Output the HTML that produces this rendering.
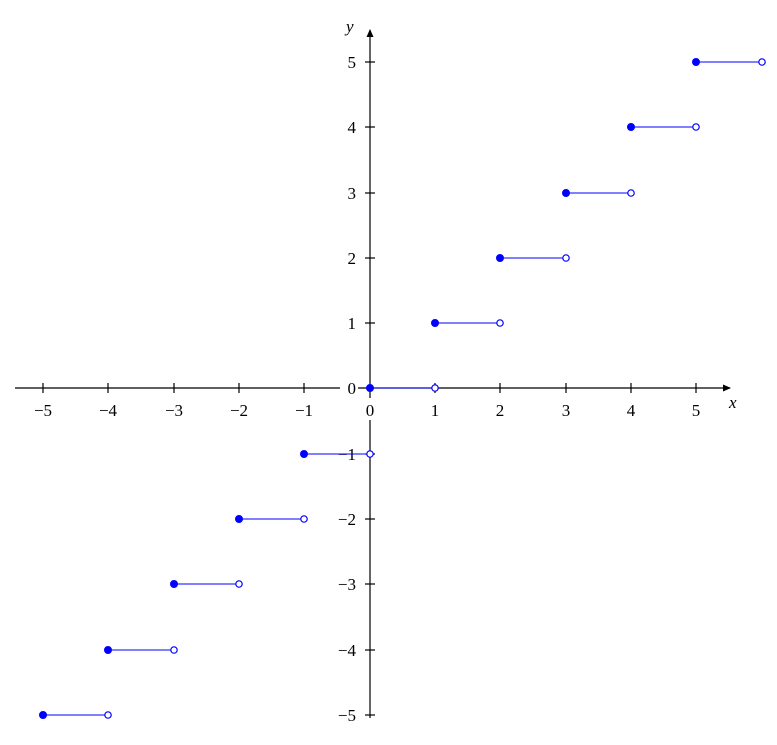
<!DOCTYPE html>
<html><head><meta charset="utf-8"><style>body{margin:0;background:#fff}</style></head><body>
<svg width="777" height="740" xmlns="http://www.w3.org/2000/svg" font-family="Liberation Serif, serif" font-size="17">
<defs><marker id="a" markerWidth="8" markerHeight="8" refX="7" refY="4" orient="auto" markerUnits="userSpaceOnUse"><path d="M0,0.5 L8,4 L0,7.5 Z" fill="#000"/></marker></defs>
<line x1="15" y1="388" x2="730" y2="388" stroke="#000" stroke-width="1.2" marker-end="url(#a)"/>
<line x1="370" y1="718" x2="370" y2="30" stroke="#000" stroke-width="1.2" marker-end="url(#a)"/>
<g stroke="#000" stroke-width="1.2">
<line x1="43" y1="383" x2="43" y2="393"/><line x1="108" y1="383" x2="108" y2="393"/><line x1="174" y1="383" x2="174" y2="393"/><line x1="239" y1="383" x2="239" y2="393"/><line x1="304" y1="383" x2="304" y2="393"/>
<line x1="435" y1="383" x2="435" y2="393"/><line x1="500" y1="383" x2="500" y2="393"/><line x1="566" y1="383" x2="566" y2="393"/><line x1="631" y1="383" x2="631" y2="393"/><line x1="696" y1="383" x2="696" y2="393"/>
<line x1="365" y1="62" x2="375" y2="62"/><line x1="365" y1="127" x2="375" y2="127"/><line x1="365" y1="193" x2="375" y2="193"/><line x1="365" y1="258" x2="375" y2="258"/><line x1="365" y1="323" x2="375" y2="323"/>
<line x1="365" y1="454" x2="375" y2="454"/><line x1="365" y1="519" x2="375" y2="519"/><line x1="365" y1="584" x2="375" y2="584"/><line x1="365" y1="650" x2="375" y2="650"/><line x1="365" y1="715" x2="375" y2="715"/>
</g>
<g text-anchor="middle">
<rect x="362" y="398" width="16" height="22" fill="#fff"/>
<text x="43" y="416">−5</text><text x="108" y="416">−4</text><text x="174" y="416">−3</text><text x="239" y="416">−2</text><text x="304" y="416">−1</text><text x="370" y="416">0</text>
<text x="435" y="416">1</text><text x="500" y="416">2</text><text x="566" y="416">3</text><text x="631" y="416">4</text><text x="696" y="416">5</text>
</g>
<rect x="340" y="378" width="18" height="20" fill="#fff"/>
<g text-anchor="end">
<text x="356" y="68">5</text><text x="356" y="133">4</text><text x="356" y="199">3</text><text x="356" y="264">2</text><text x="356" y="329">1</text><text x="356" y="394">0</text>
<text x="356" y="460">−1</text><text x="356" y="525">−2</text><text x="356" y="590">−3</text><text x="356" y="656">−4</text><text x="356" y="721">−5</text>
</g>
<text x="729" y="408" font-style="italic">x</text>
<text x="346" y="32" font-style="italic">y</text>
<g stroke="#0000ff" stroke-width="1" fill="#0000ff">
<line x1="43" y1="715" x2="108" y2="715"/><line x1="108" y1="650" x2="174" y2="650"/><line x1="174" y1="584" x2="239" y2="584"/><line x1="239" y1="519" x2="304" y2="519"/><line x1="304" y1="454" x2="370" y2="454"/>
<line x1="370" y1="388" x2="435" y2="388"/><line x1="435" y1="323" x2="500" y2="323"/><line x1="500" y1="258" x2="566" y2="258"/><line x1="566" y1="193" x2="631" y2="193"/><line x1="631" y1="127" x2="696" y2="127"/><line x1="696" y1="62" x2="762" y2="62"/>
<circle cx="43" cy="715" r="3.5"/><circle cx="108" cy="650" r="3.5"/><circle cx="174" cy="584" r="3.5"/><circle cx="239" cy="519" r="3.5"/><circle cx="304" cy="454" r="3.5"/><circle cx="370" cy="388" r="3.5"/><circle cx="435" cy="323" r="3.5"/><circle cx="500" cy="258" r="3.5"/><circle cx="566" cy="193" r="3.5"/><circle cx="631" cy="127" r="3.5"/><circle cx="696" cy="62" r="3.5"/>
</g>
<g stroke="#0000ff" stroke-width="1.2" fill="#fff">
<circle cx="108" cy="715" r="3.2"/><circle cx="174" cy="650" r="3.2"/><circle cx="239" cy="584" r="3.2"/><circle cx="304" cy="519" r="3.2"/><circle cx="370" cy="454" r="3.2"/><circle cx="435" cy="388" r="3.2"/><circle cx="500" cy="323" r="3.2"/><circle cx="566" cy="258" r="3.2"/><circle cx="631" cy="193" r="3.2"/><circle cx="696" cy="127" r="3.2"/><circle cx="762" cy="62" r="3.2"/>
</g>
</svg>
</body></html>
